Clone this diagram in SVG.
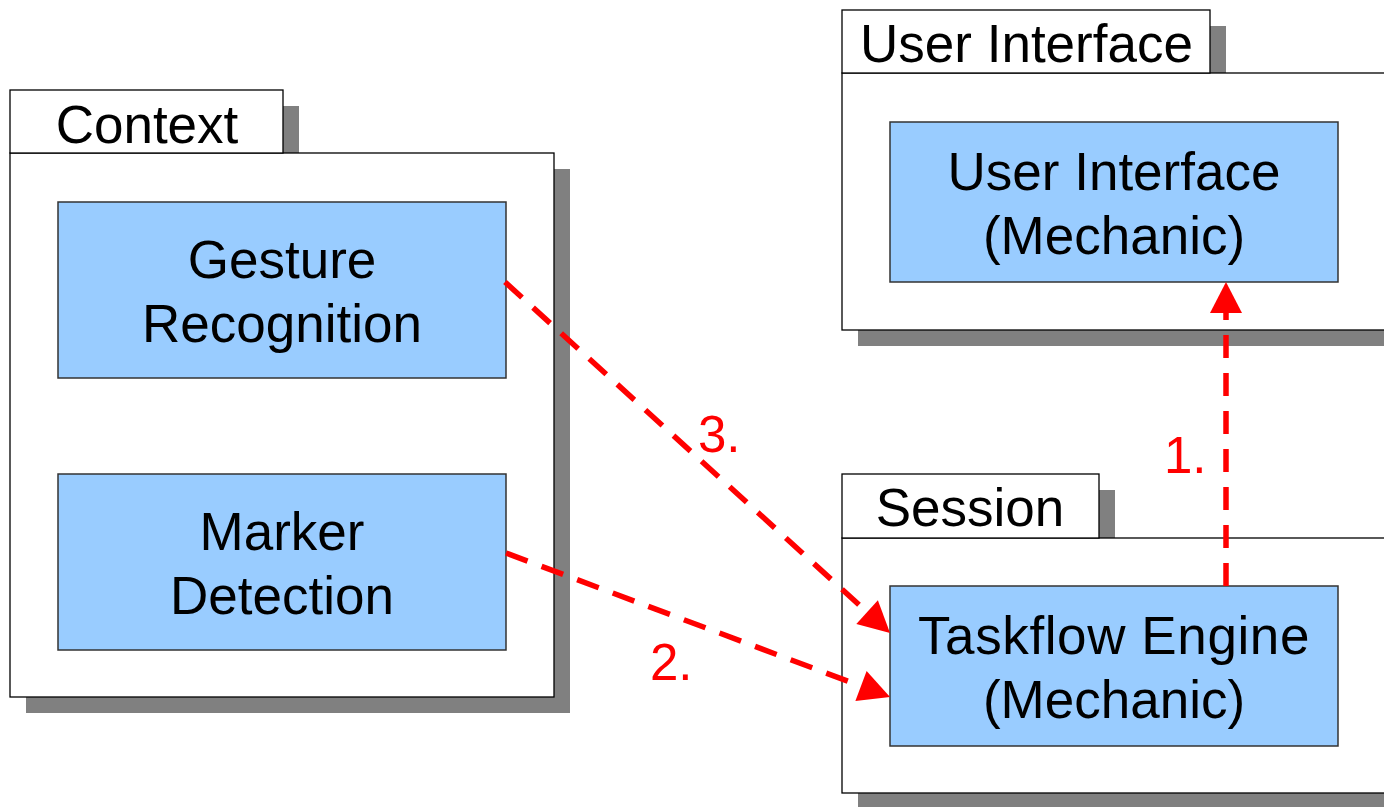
<svg xmlns="http://www.w3.org/2000/svg" width="1384" height="807" viewBox="0 0 1384 807">
<style>
.shadow{fill:#808080;stroke:none}
.pkg{fill:#ffffff;stroke:#000000;stroke-width:1.3}
.box{fill:#99ccff;stroke:#333333;stroke-width:1.5}
.tab{font-family:"Liberation Sans",Arial,sans-serif;font-size:53px;fill:#000;text-anchor:middle}
.txt{font-family:"Liberation Sans",Arial,sans-serif;font-size:53px;fill:#000;text-anchor:middle}
.conn{fill:none;stroke:#ff0000;stroke-width:5.5;stroke-dasharray:23 15}
.lbl{font-family:"Liberation Sans",Arial,sans-serif;font-size:51px;fill:#ff0000}
</style>
<defs>
<marker id="ah" markerUnits="userSpaceOnUse" markerWidth="34" markerHeight="34" viewBox="0 -17 32 34" refX="0" refY="0" orient="auto">
<path d="M0,-16 L31,0 L0,16 Z" fill="#ff0000"/>
</marker>
</defs>
<g id="pkg-context">
<rect class="shadow" x="26" y="106" width="273" height="63"/>
<rect class="shadow" x="26" y="169" width="544" height="544"/>
<rect class="pkg" x="10" y="153" width="544" height="544"/>
<rect class="pkg" x="10" y="90" width="273" height="63"/>
<text class="tab" x="147" y="143">Context</text>
</g>
<g id="pkg-ui">
<rect class="shadow" x="858" y="26" width="368" height="63"/>
<rect class="shadow" x="858" y="89" width="560" height="257"/>
<rect class="pkg" x="842" y="73" width="560" height="257"/>
<rect class="pkg" x="842" y="10" width="368" height="63"/>
<text class="tab" x="1026.5" y="62">User Interface</text>
</g>
<g id="pkg-session">
<rect class="shadow" x="858" y="490" width="257" height="64"/>
<rect class="shadow" x="858" y="554" width="560" height="260"/>
<rect class="pkg" x="842" y="538" width="560" height="255"/>
<rect class="pkg" x="842" y="474" width="257" height="64"/>
<text class="tab" x="970" y="526">Session</text>
</g>
<g id="gesture">
<rect class="box" x="58" y="202" width="448" height="176"/>
<text class="txt" x="282" y="278">Gesture</text>
<text class="txt" x="282" y="342">Recognition</text>
</g>
<g id="marker">
<rect class="box" x="58" y="474" width="448" height="176"/>
<text class="txt" x="282" y="550">Marker</text>
<text class="txt" x="282" y="614">Detection</text>
</g>
<g id="ui-mechanic">
<rect class="box" x="890" y="122" width="448" height="160"/>
<text class="txt" x="1114" y="190">User Interface</text>
<text class="txt" x="1114" y="254">(Mechanic)</text>
</g>
<g id="taskflow">
<rect class="box" x="890" y="586" width="448" height="160"/>
<text class="txt" x="1114" y="654" letter-spacing="0.6">Taskflow Engine</text>
<text class="txt" x="1114" y="718">(Mechanic)</text>
</g>
<g id="connectors">
<path class="conn" d="M1226,586 L1226,313" marker-end="url(#ah)"/>
<path class="conn" d="M506,553 L861,686.1" marker-end="url(#ah)"/>
<path class="conn" d="M505,282 L867.1,612.1" marker-end="url(#ah)"/>
<text class="lbl" x="1164" y="473">1.</text>
<text class="lbl" x="650" y="680">2.</text>
<text class="lbl" x="698" y="452">3.</text>
</g>
</svg>
